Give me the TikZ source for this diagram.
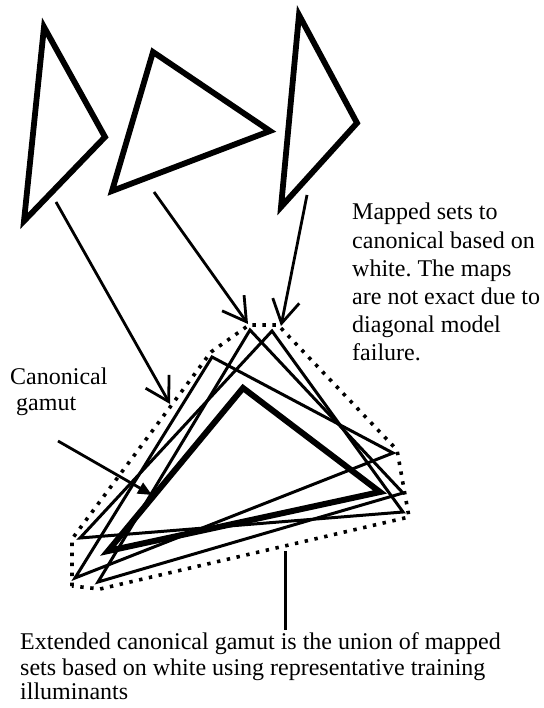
\documentclass[tikz,border=0pt]{standalone}
\usepackage{fontspec}
\setmainfont{Liberation Serif}
\usetikzlibrary{arrows.meta}
\begin{document}
\frenchspacing
\begin{tikzpicture}[x=1pt,y=-1pt,
  settri/.style={line width=5.8pt,line join=miter},
  maptri/.style={line width=3pt,line join=miter},
  canontri/.style={line width=6pt,line join=miter},
  hull/.style={line width=3.6pt,dash pattern=on 3.4pt off 6.6pt},
  maparrow/.style={line width=2.8pt,-{Straight Barb[length=23pt,width=27pt,line width=2.8pt]}},
  canarrow/.style={line width=2.8pt,-{Triangle[length=14pt,width=12pt]}},
  lbl/.style={inner sep=0pt,anchor=base west,font=\fontsize{24}{28}\selectfont}]
\useasboundingbox (0,0) rectangle (543,708);
% three input sets
\draw[settri] (44,27) -- (105,137) -- (24,221) -- cycle;
\draw[settri] (153,52) -- (270,131) -- (112,191) -- cycle;
\draw[settri] (299,15) -- (357,123) -- (281,207) -- cycle;
% arrow endpoints
\coordinate (s1) at (56,202);  \coordinate (t1) at (170,404);
\coordinate (s2) at (154,192); \coordinate (t2) at (248,324);
\coordinate (s3) at (307,195); \coordinate (t3) at (281,326);
\draw[maparrow] (s1) -- (t1);
\draw[maparrow] (s2) -- (t2);
\draw[maparrow] (s3) -- (t3);
% mapped sets
\draw[maptri] (250,330) -- (403,493) -- (98,582) -- cycle;
\draw[maptri] (272,331) -- (403,512) -- (80,538) -- cycle;
\draw[maptri] (212,357) -- (393,453) -- (75,578) -- cycle;
% canonical gamut
\draw[canontri] (243,388) -- (380,492) -- (108,551) -- cycle;
% extended canonical gamut hull
\draw[hull] (72,586) -- (72,539) -- (211,352) -- (249,325) -- (278,325) -- (397,450) -- (409,517) -- (100,589) -- cycle;
% labels
\node[lbl] (m1) at (352,220) {Mapped sets to};
\node[lbl] (m2) at (352,248) {canonical based on};
\node[lbl] (m3) at (352,276) {white. The maps};
\node[lbl] (m4) at (352,304) {are not exact due to};
\node[lbl] (m5) at (352,332) {diagonal model};
\node[lbl] (m6) at (352,360) {failure.};
\node[lbl] (c1) at (10,384) {Canonical};
\node[lbl] (c2) at (16,410) {gamut};
\coordinate (cs) at (58,441); \coordinate (ct) at (152,495);
\draw[canarrow] (cs) -- (ct);
\node[lbl] (e1) at (20,649) {Extended canonical gamut is the union of mapped};
\node[lbl] (e2) at (20,675) {sets based on white using representative training};
\node[lbl] (e3) at (20,699) {illuminants};
\coordinate (ht) at (285,551); \coordinate (hb) at (285,630);
\draw[line width=3pt] (ht) -- (hb);
\end{tikzpicture}
\end{document}
